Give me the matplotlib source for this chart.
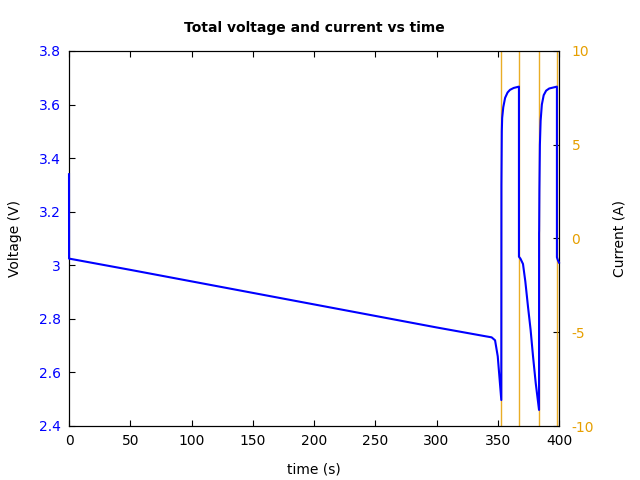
import matplotlib
matplotlib.use("Agg")
import matplotlib.pyplot as plt
from matplotlib.ticker import FuncFormatter

plt.rcParams["axes.unicode_minus"] = False

# Voltage trace (s, V)
time_v = [0.0, 0.0, 0.05, 50, 100, 150, 200, 250, 300, 340, 345, 347.8, 350.0, 352.9,
          353.0, 353.3, 353.6, 354.5, 356.0, 358.0, 360.0, 363.0, 367.3,
          367.3, 368.5, 370.6, 372.5, 374.7, 376.8, 378.8, 381.0, 383.7,
          383.75, 383.8, 384.0, 384.4, 385.0, 386.0, 387.5, 389.5, 392.0, 398.3,
          398.3, 399.0, 400.0]
voltage = [3.34, 3.34, 3.025, 2.983, 2.940, 2.897, 2.854, 2.811, 2.768, 2.735, 2.731, 2.72, 2.66, 2.497,
           3.30, 3.50, 3.55, 3.59, 3.625, 3.645, 3.655, 3.662, 3.667,
           3.032, 3.025, 3.005, 2.94, 2.845, 2.76, 2.66, 2.56, 2.46,
           3.12, 3.13, 3.28, 3.45, 3.54, 3.60, 3.635, 3.652, 3.660, 3.667,
           3.03, 3.02, 3.01]

# Current steps (s, A)
time_i = [0.0, 352.8, 367.3, 383.8, 398.3, 400.0]
current = [-12, 12, -12, 12, -12, -12]

fig = plt.figure(figsize=(6.4, 4.8), dpi=100)
ax1 = fig.add_axes([69/640, 1-426/480, 490/640, 375/480])
ax2 = ax1.twinx()

ax2.plot(time_i, current, drawstyle="steps-post", color="#E69F00", lw=1, alpha=0.85)
ax1.plot(time_v, voltage, color="blue", lw=1.5, zorder=3, clip_on=False)
ax1.set_zorder(ax2.get_zorder() + 1)
ax1.patch.set_visible(False)

ax1.set_xlim(0, 400)
ax1.set_ylim(2.4, 3.8)
ax2.set_ylim(-10, 10)
ax1.set_xticks(range(0, 401, 50))
ax1.set_yticks([2.4, 2.6, 2.8, 3.0, 3.2, 3.4, 3.6, 3.8])
ax1.yaxis.set_major_formatter(FuncFormatter(lambda v, p: f"{v:g}"))
ax2.set_yticks([-10, -5, 0, 5, 10])

ax1.tick_params(axis="both", direction="in", length=4, labelsize=10, pad=6)
ax1.tick_params(axis="x", top=True)
ax1.tick_params(axis="y", labelcolor="blue", color="black")
ax2.tick_params(axis="y", direction="in", length=4, labelsize=10, pad=9,
                labelcolor="#E69F00", color="black")

ax1.set_xlabel("time (s)", fontsize=10, labelpad=10)
ax1.set_ylabel("Voltage (V)", fontsize=10, labelpad=12)
ax2.set_ylabel("Current (A)", fontsize=10, labelpad=13)
ax1.set_title("Total voltage and current vs time", fontsize=10, fontweight="bold", pad=14)

fig.savefig("out.png", dpi=100)
